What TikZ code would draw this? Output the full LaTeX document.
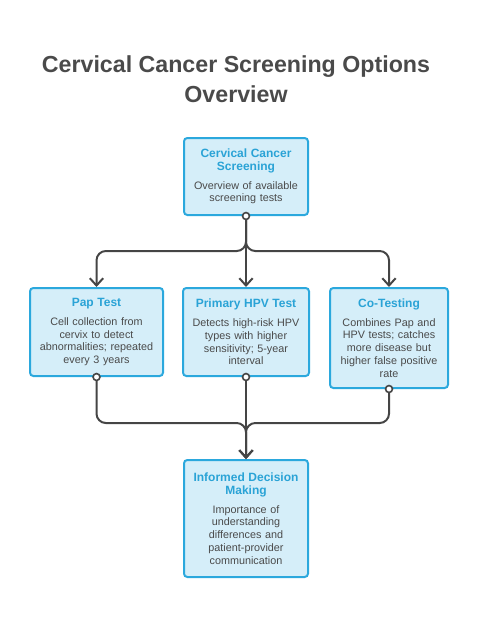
\documentclass[tikz,border=0pt]{standalone}
\usepackage{fontspec}
\setmainfont{Liberation Sans}
\usetikzlibrary{arrows.meta,positioning,calc}

\definecolor{boxfill}{HTML}{D5EEF9}
\definecolor{boxline}{HTML}{2BA8DD}
\definecolor{headcol}{HTML}{2AA3D6}
\definecolor{textcol}{HTML}{4A4A4A}
\definecolor{linkcol}{HTML}{454545}

\tikzset{
  stepbox/.style={rectangle, draw=boxline, fill=boxfill, line width=1.5pt,
    rounded corners=2.5pt, align=center, inner sep=0pt,
    font=\fontsize{8.1}{9.6}\selectfont, text=textcol},
  link/.style={draw=linkcol, line width=1.5pt, rounded corners=7pt,
    -{Straight Barb[length=5.5pt,width=10pt,line width=1.5pt]}},
  knob/.style={draw=linkcol, fill=white, line width=1.2pt}
}
\newcommand{\boxhead}[1]{{\fontsize{9}{11.2}\selectfont\bfseries\color{headcol}#1}\\[4.5pt]}

\begin{document}
\begin{tikzpicture}[x=0.75pt, y=-0.75pt]
		\useasboundingbox (0,0) rectangle (478,632);

		% title
		\node[font=\fontsize{17.4}{22.5}\selectfont\bfseries, text=textcol, align=center] (title) at (236, 79) {Cervical Cancer Screening Options\\Overview};

		% boxes
		\node[stepbox, minimum width=93pt, minimum height=57.75pt, text width=90pt] (screen) at (246, 176.5) {\boxhead{Cervical Cancer\\Screening}Overview of available\\screening tests};
		\node[stepbox, minimum width=99.75pt, minimum height=66pt, text width=96pt] (pap) at (96.5, 332) {\boxhead{Pap Test}Cell collection from\\cervix to detect\\abnormalities; repeated\\every 3 years};
		\node[stepbox, minimum width=94.5pt, minimum height=66pt, text width=92pt] (hpv) at (246, 332) {\boxhead{Primary HPV Test}Detects high-risk HPV\\types with higher\\sensitivity; 5-year\\interval};
		\node[stepbox, minimum width=88.5pt, minimum height=75pt, text width=86pt] (cotest) at (389, 338) {\boxhead{Co-Testing}Combines Pap and\\HPV tests; catches\\more disease but\\higher false positive\\rate};
		\node[stepbox, minimum width=93pt, minimum height=87.75pt, text width=90pt] (decide) at (246, 518.5) {\boxhead{Informed Decision\\Making}Importance of\\understanding\\differences and\\patient-provider\\communication};

		% branches down
		\draw[link] (screen.south) |- ($(pap.north)+(0,-36)$) -- (pap.north);
		\draw[link] (screen.south) -- (hpv.north);
		\draw[link] (screen.south) |- ($(cotest.north)+(0,-36)$) -- (cotest.north);

		% merge
		\draw[link] (pap.south) |- ($(decide.north)+(0,-36)$) -- (decide.north);
		\draw[link] (hpv.south) -- (decide.north);
		\draw[link] (cotest.south) |- ($(decide.north)+(0,-36)$) -- (decide.north);

		% knobs
		\foreach \n in {screen, pap, hpv, cotest}
			\filldraw[knob] (\n.south) circle (2.6pt);
	\end{tikzpicture}
\end{document}
